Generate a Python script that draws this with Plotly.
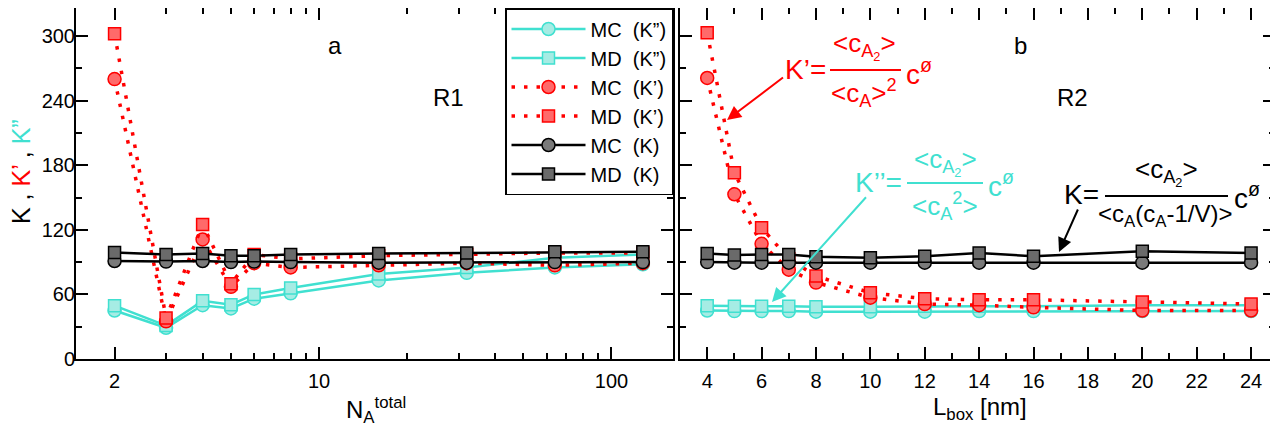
import plotly.graph_objects as go

# ---------------- data ----------------
N_total = [2, 3, 4, 5, 6, 8, 16, 32, 64, 128]
MC_Kpp_R1 = [45, 29, 50, 47, 56, 61, 73, 80, 85, 88]
MD_Kpp_R1 = [49.5, 31, 54, 50.5, 60, 66, 79, 85, 94, 97]
MC_Kp_R1 = [260, 35, 111, 67, 89, 85, 87, 89, 87, 89]
MD_Kp_R1 = [302, 38, 125, 70, 97, 93, 96, 97, 98.5, 98.5]
MC_K_R1 = [91, 90.5, 91, 90, 90.5, 90, 89.5, 89.5, 90, 90]
MD_K_R1 = [99, 97, 98, 96, 96, 97, 98, 98.5, 99.5, 99.5]

L_box = [4, 5, 6, 7, 8, 10, 12, 14, 16, 20, 24]
MC_Kpp_R2 = [45, 44.5, 44.5, 44.5, 44, 44, 44, 44.5, 44.5, 44.5, 44.5]
MD_Kpp_R2 = [49.5, 49, 49, 49, 48.5, 48.5, 49, 49, 49, 50, 50]
MC_Kp_R2 = [261, 153, 107, 83, 71, 57, 51, 50, 48, 45, 45]
MD_Kp_R2 = [303, 173, 122, 93, 77, 61.5, 56, 55, 55, 53, 51]
MC_K_R2 = [90, 89.5, 89.5, 89.5, 89.5, 89.5, 89.5, 89.5, 89.5, 89.5, 89.5]
MD_K_R2 = [98, 96.5, 97, 97, 95, 94, 95.5, 98.5, 95.5, 100, 98.5]

y_ticks = [0, 60, 120, 180, 240, 300]
n_ticks = [2, 10, 100]
n_minor = [3, 4, 5, 6, 7, 8, 9, 20, 30, 40, 50, 60, 70, 80, 90]

CYAN = "#40E0D0"
RED = "#ff0000"
BLACK = "#000000"
FONT = "Liberation Sans, Arial, sans-serif"

# page has an 8px body margin: design the figure in page coordinates
OFF = 8
W, H = 1270, 418
ML, MR, MT, MB = 68, 3, 0, 67
PW, PH = W - ML - MR, H - MT - MB


def px(x):
    return (x - OFF - ML) / PW


def py(y):
    return (H - MB - (y - OFF)) / PH


NB = "\u00a0"
series = [
    ("MC" + NB + NB + "(K”)", CYAN, "circle", "#a6ece4", "solid", 2.5, MC_Kpp_R1, MC_Kpp_R2),
    ("MD" + NB + NB + "(K”)", CYAN, "square", "#a6ece4", "solid", 2.5, MD_Kpp_R1, MD_Kpp_R2),
    ("MC" + NB + NB + "(K’)", RED, "circle", "#ff6a6a", "3.5px,9px", 3.5, MC_Kp_R1, MC_Kp_R2),
    ("MD" + NB + NB + "(K’)", RED, "square", "#ff6a6a", "3.5px,9px", 3.5, MD_Kp_R1, MD_Kp_R2),
    ("MC" + NB + NB + "(K)", BLACK, "circle", "#7a7a7a", "solid", 2.5, MC_K_R1, MC_K_R2),
    ("MD" + NB + NB + "(K)", BLACK, "square", "#6a6a6a", "solid", 2.5, MD_K_R1, MD_K_R2),
]

fig = go.Figure()
for name, col, sym, fill, dash, lw, v1, v2 in series:
    msize = 13 if sym == "circle" else 12
    mk = dict(symbol=sym, size=msize, color=fill, line=dict(color=col, width=1.5))
    ln = dict(color=col, width=lw, dash=dash)
    fig.add_trace(go.Scatter(x=N_total, y=v1, mode="lines+markers", name=name,
                             line=ln, marker=mk, xaxis="x", yaxis="y"))
    fig.add_trace(go.Scatter(x=L_box, y=v2, mode="lines+markers", name=name,
                             line=ln, marker=mk, xaxis="x2", yaxis="y2",
                             showlegend=False))

axis_common = dict(showline=True, linewidth=2, linecolor="black", mirror="ticks",
                   ticks="inside", ticklen=12, tickwidth=1.5, tickcolor="black",
                   showgrid=False, zeroline=False, automargin=False,
                   tickfont=dict(family=FONT, size=20, color="black"))
YMAX = 326

fig.update_layout(
    width=W, height=H,
    margin=dict(l=ML, r=MR, t=MT, b=MB, autoexpand=False),
    paper_bgcolor="white", plot_bgcolor="white",
    font=dict(family=FONT, color="black"),
    xaxis=dict(type="log", domain=[0, px(673)], range=[0.1692, 2.2103],
               tickmode="array", tickvals=n_ticks, ticktext=[str(v) for v in n_ticks],
               minor=dict(tickmode="array", tickvals=n_minor, ticks="inside", ticklen=6,
                          tickwidth=1.5, tickcolor="black"),
               ticklabelstandoff=3, anchor="y", **axis_common),
    yaxis=dict(domain=[0, 1], range=[0, YMAX], tickmode="array", tickvals=y_ticks,
               minor=dict(dtick=30, tick0=0, ticks="inside", ticklen=6, tickwidth=1.5,
                          tickcolor="black"),
               ticklabelstandoff=-5, anchor="x", **axis_common),
    xaxis2=dict(domain=[px(680), 1], range=[3.0, 24.88], tick0=0, dtick=2,
                minor=dict(dtick=1, tick0=0, ticks="inside", ticklen=6, tickwidth=1.5,
                           tickcolor="black"),
                ticklabelstandoff=3, anchor="y2", **axis_common),
    yaxis2=dict(domain=[0, 1], range=[0, YMAX], tickmode="array", tickvals=y_ticks,
                showticklabels=False,
                minor=dict(dtick=30, tick0=0, ticks="inside", ticklen=6, tickwidth=1.5,
                           tickcolor="black"),
                anchor="x2", **axis_common),
    legend=dict(x=px(673), xanchor="right", y=1, yanchor="top",
                bgcolor="white", bordercolor="black", borderwidth=1.5,
                font=dict(family=FONT, size=20, color="black"),
                itemwidth=74, tracegroupgap=0),
    showlegend=True,
)

annotations = []
shapes = []


def txt(x, y, s, color="black", size=22, xanchor="center", angle=0):
    annotations.append(dict(x=px(x), y=py(y), xref="paper", yref="paper", text=s,
                            showarrow=False, xanchor=xanchor, yanchor="middle",
                            textangle=angle,
                            font=dict(family=FONT, size=size, color=color)))


def bar(x0, x1, y, color):
    shapes.append(dict(type="line", xref="paper", yref="paper", x0=px(x0), x1=px(x1),
                       y0=py(y), y1=py(y), line=dict(color=color, width=2)))


def arrow(xh, yh, xt, yt, color):
    annotations.append(dict(x=px(xh), y=py(yh), xref="paper", yref="paper", text=" ",
                            showarrow=True, ax=xt - xh, ay=yt - yh, axref="pixel",
                            ayref="pixel", arrowhead=2, arrowsize=1.4, arrowwidth=2,
                            arrowcolor=color, font=dict(size=2)))


# axis titles
txt(21, 172, "K , <span style='color:#ff0000'>K’</span> , "
             "<span style='color:#40E0D0'>K”</span>", size=25, angle=-90)
txt(376, 410, "N<sub>A</sub><sup>total</sup>", size=24)
txt(980, 408, "L<sub>box</sub> [nm]", size=24)

# panel labels
txt(335, 46, "a", size=24)
txt(448, 98, "R1", size=24)
txt(1020, 46, "b", size=24)
txt(1072, 98, "R2", size=24)

# K' formula (red)
txt(828, 69, "K’=", RED, 28, "right")
bar(830, 901, 70, RED)
txt(864, 46, "<c<sub>A<sub>2</sub></sub>>", RED, 26)
txt(864, 93, "<c<sub>A</sub>><sup>2</sup>", RED, 26)
txt(904, 72, "c<sup>ø</sup>", RED, 28, "left")
arrow(727, 120, 785, 76, RED)

# K'' formula (cyan)
txt(904, 182, "K’’=", CYAN, 28, "right")
bar(907, 983, 183, CYAN)
txt(945, 162, "<c<sub>A<sub>2</sub></sub>>", CYAN, 26)
txt(945, 206, "<c<sub>A</sub><sup>2</sup>>", CYAN, 26)
txt(986, 184, "c<sup>ø</sup>", CYAN, 28, "left")
arrow(772, 302, 868, 195, CYAN)

# K formula (black)
txt(1101, 195, "K=", BLACK, 28, "right")
bar(1105, 1228, 196, BLACK)
txt(1166, 172, "<c<sub>A<sub>2</sub></sub>>", BLACK, 26)
txt(1165, 215, "<c<sub>A</sub>(c<sub>A</sub>-1/V)>", BLACK, 24)
txt(1232, 196, "c<sup>ø</sup>", BLACK, 28, "left")
arrow(1059, 252, 1079, 207, BLACK)

fig.update_layout(annotations=annotations, shapes=shapes)

fig.write_html("out.html")
